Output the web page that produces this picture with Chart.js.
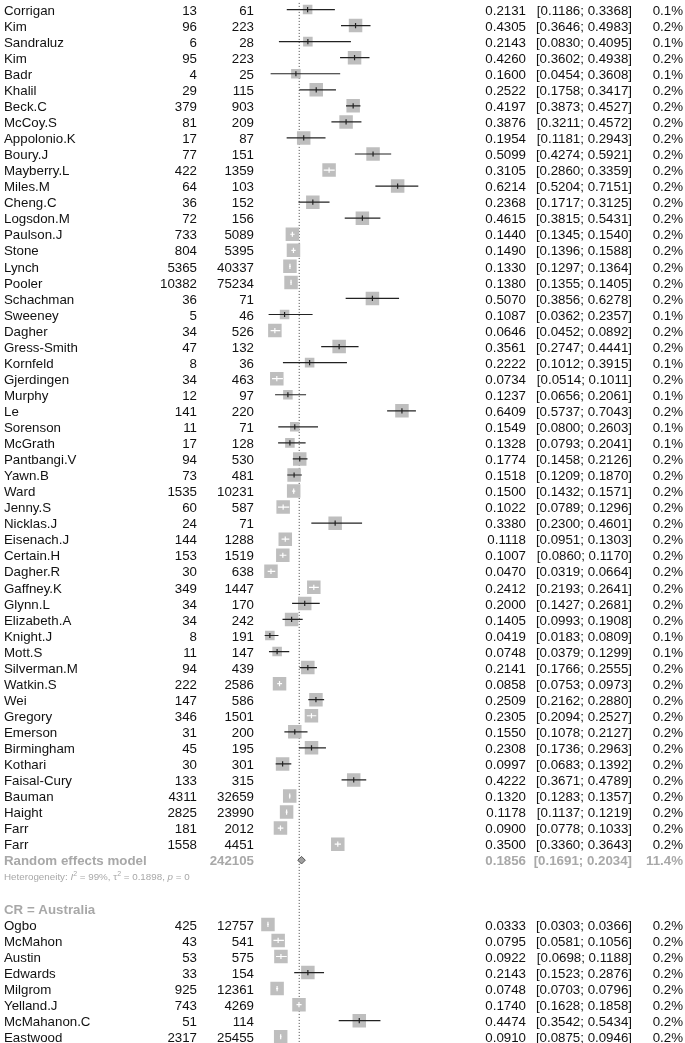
<!DOCTYPE html>
<html>
<head>
<meta charset="utf-8">
<script src="https://cdn.jsdelivr.net/npm/chart.js@4/dist/chart.umd.min.js"></script>
<style>
  html, body { margin: 0; padding: 0; background: #fff; }
  #wrap { position: relative; width: 685px; height: 1043px; }
</style>
</head>
<body>
<div id="wrap"><canvas id="forest"></canvas></div>
<script>
// study rows (first subgroup, then CR = Australia)
var studies = ['Corrigan','Kim','Sandraluz','Kim','Badr','Khalil','Beck.C','McCoy.S','Appolonio.K','Boury.J',
  'Mayberry.L','Miles.M','Cheng.C','Logsdon.M','Paulson.J','Stone','Lynch','Pooler','Schachman','Sweeney',
  'Dagher','Gress-Smith','Kornfeld','Gjerdingen','Murphy','Le','Sorenson','McGrath','Pantbangi.V','Yawn.B',
  'Ward','Jenny.S','Nicklas.J','Eisenach.J','Certain.H','Dagher.R','Gaffney.K','Glynn.L','Elizabeth.A','Knight.J',
  'Mott.S','Silverman.M','Watkin.S','Wei','Gregory','Emerson','Birmingham','Kothari','Faisal-Cury','Bauman',
  'Haight','Farr','Farr',
  'Ogbo','McMahon','Austin','Edwards','Milgrom','Yelland.J','McMahanon.C','Eastwood'];
var events = [13,96,6,95,4,29,379,81,17,77,
  422,64,36,72,733,804,5365,10382,36,5,
  34,47,8,34,12,141,11,17,94,73,
  1535,60,24,144,153,30,349,34,34,8,
  11,94,222,147,346,31,45,30,133,4311,
  2825,181,1558,
  425,43,53,33,925,743,51,2317];
var totals = [61,223,28,223,25,115,903,209,87,151,
  1359,103,152,156,5089,5395,40337,75234,71,46,
  526,132,36,463,97,220,71,128,530,481,
  10231,587,71,1288,1519,638,1447,170,242,191,
  147,439,2586,586,1501,200,195,301,315,32659,
  23990,2012,4451,
  12757,541,575,154,12361,4269,114,25455];
var props = [0.2131,0.4305,0.2143,0.4260,0.1600,0.2522,0.4197,0.3876,0.1954,0.5099,
  0.3105,0.6214,0.2368,0.4615,0.1440,0.1490,0.1330,0.1380,0.5070,0.1087,
  0.0646,0.3561,0.2222,0.0734,0.1237,0.6409,0.1549,0.1328,0.1774,0.1518,
  0.1500,0.1022,0.3380,0.1118,0.1007,0.0470,0.2412,0.2000,0.1405,0.0419,
  0.0748,0.2141,0.0858,0.2509,0.2305,0.1550,0.2308,0.0997,0.4222,0.1320,
  0.1178,0.0900,0.3500,
  0.0333,0.0795,0.0922,0.2143,0.0748,0.1740,0.4474,0.0910];
var lower = [0.1186,0.3646,0.0830,0.3602,0.0454,0.1758,0.3873,0.3211,0.1181,0.4274,
  0.2860,0.5204,0.1717,0.3815,0.1345,0.1396,0.1297,0.1355,0.3856,0.0362,
  0.0452,0.2747,0.1012,0.0514,0.0656,0.5737,0.0800,0.0793,0.1458,0.1209,
  0.1432,0.0789,0.2300,0.0951,0.0860,0.0319,0.2193,0.1427,0.0993,0.0183,
  0.0379,0.1766,0.0753,0.2162,0.2094,0.1078,0.1736,0.0683,0.3671,0.1283,
  0.1137,0.0778,0.3360,
  0.0303,0.0581,0.0698,0.1523,0.0703,0.1628,0.3542,0.0875];
var upper = [0.3368,0.4983,0.4095,0.4938,0.3608,0.3417,0.4527,0.4572,0.2943,0.5921,
  0.3359,0.7151,0.3125,0.5431,0.1540,0.1588,0.1364,0.1405,0.6278,0.2357,
  0.0892,0.4441,0.3915,0.1011,0.2061,0.7043,0.2603,0.2041,0.2126,0.1870,
  0.1571,0.1296,0.4601,0.1303,0.1170,0.0664,0.2641,0.2681,0.1908,0.0809,
  0.1299,0.2555,0.0973,0.2880,0.2527,0.2127,0.2963,0.1392,0.4789,0.1357,
  0.1219,0.1033,0.3643,
  0.0366,0.1056,0.1188,0.2876,0.0796,0.1858,0.5434,0.0946];
var weights = [0.1,0.2,0.1,0.2,0.1,0.2,0.2,0.2,0.2,0.2,
  0.2,0.2,0.2,0.2,0.2,0.2,0.2,0.2,0.2,0.1,
  0.2,0.2,0.1,0.2,0.1,0.2,0.1,0.1,0.2,0.2,
  0.2,0.2,0.2,0.2,0.2,0.2,0.2,0.2,0.2,0.1,
  0.1,0.2,0.2,0.2,0.2,0.2,0.2,0.2,0.2,0.2,
  0.2,0.2,0.2,
  0.2,0.2,0.2,0.2,0.2,0.2,0.2,0.2];
var firstGroupSize = 53;
var subgroupLabel = 'CR = Australia';

// pooled estimate of the first subgroup
var pooledLabel = 'Random effects model';
var pooledTotal = 242105;
var pooledEst = 0.1856;
var pooledLower = 0.1691;
var pooledUpper = 0.2034;
var pooledWeight = 11.4;
var hetI2 = '99%', hetTau2 = '0.1898', hetP = '0';
var overallEst = 0.175;   // dotted reference line

var FONT = '"Liberation Sans", Arial, Helvetica, sans-serif';
var BLACK = '#111', GREY = '#a8a8a8', LINE = '#222';
var SQ = 13.5;   // square side at 0.2% weight

function rowOf(i) { return i < firstGroupSize ? i : i + 4; }
var pooledRow = firstGroupSize, hetRow = firstGroupSize + 1, headerRow = firstGroupSize + 3;
function sideOf(i) { return SQ * Math.sqrt(weights[i] / 0.2); }
function insideSq(i, chart) {
  var xs = chart.scales.x;
  var c = xs.getPixelForValue(props[i]), h = sideOf(i) / 2;
  return xs.getPixelForValue(lower[i]) >= c - h && xs.getPixelForValue(upper[i]) <= c + h;
}

var squareData = props.map(function(p, i){ return {x: p, y: rowOf(i)}; });
var ciData = [];
props.forEach(function(p, i){
  ciData.push({x: lower[i], y: rowOf(i)});
  ciData.push({x: upper[i], y: rowOf(i)});
  ciData.push({x: upper[i], y: null});
});

var tablePlugin = {
  id: 'forestTable',
  afterDatasetsDraw: function(chart) {
    var ctx = chart.ctx, ys = chart.scales.y;
    function put(txt, x, row, align, color, bold) {
      ctx.font = (bold ? 'bold ' : '') + '13.3px ' + FONT;
      ctx.fillStyle = color;
      ctx.textAlign = align;
      ctx.fillText(txt, x, ys.getPixelForValue(row) + 5.2);
    }
    ctx.save();
    ctx.textBaseline = 'alphabetic';
    studies.forEach(function(s, i){
      var r = rowOf(i);
      put(s, 4, r, 'left', BLACK);
      put(String(events[i]), 197, r, 'right', BLACK);
      put(String(totals[i]), 254, r, 'right', BLACK);
      put(props[i].toFixed(4), 526, r, 'right', BLACK);
      put('[' + lower[i].toFixed(4) + '; ' + upper[i].toFixed(4) + ']', 632, r, 'right', BLACK);
      put(weights[i].toFixed(1) + '%', 683, r, 'right', BLACK);
    });
    put(pooledLabel, 4, pooledRow, 'left', GREY, true);
    put(String(pooledTotal), 254, pooledRow, 'right', GREY, true);
    put(pooledEst.toFixed(4), 526, pooledRow, 'right', GREY, true);
    put('[' + pooledLower.toFixed(4) + '; ' + pooledUpper.toFixed(4) + ']', 632, pooledRow, 'right', GREY, true);
    put(pooledWeight.toFixed(1) + '%', 683, pooledRow, 'right', GREY, true);
    put(subgroupLabel, 4, headerRow, 'left', GREY, true);

    // heterogeneity line with italic / superscripts
    var x = 4, y = ys.getPixelForValue(hetRow) + 4;
    ctx.textAlign = 'left';
    ctx.fillStyle = GREY;
    function seg(t, font, dy) {
      ctx.font = font;
      ctx.fillText(t, x, y + (dy || 0));
      x += ctx.measureText(t).width;
    }
    var n = '9.8px ' + FONT, it = 'italic 9.8px ' + FONT, sup = '7px ' + FONT;
    seg('Heterogeneity: ', n);
    seg('I', it);
    seg('2', sup, -4.3);
    seg(' = ' + hetI2 + ', ', n);
    seg('\u03c4', n);
    seg('2', sup, -4.3);
    seg(' = ' + hetTau2 + ', ', n);
    seg('p', it);
    seg(' = ' + hetP, n);
    ctx.restore();
  }
};

new Chart(document.getElementById('forest'), {
  type: 'scatter',
  data: {
    datasets: [
      {
        label: 'overall',
        data: [{x: overallEst, y: -0.6}, {x: overallEst, y: 64.5}],
        showLine: true, borderColor: '#444', borderWidth: 1, borderDash: [1, 2],
        pointRadius: 0, order: 6
      },
      {
        label: 'squares',
        data: squareData,
        pointStyle: 'rect',
        pointRadius: function(c){ return sideOf(c.dataIndex) / Math.SQRT2; },
        pointHoverRadius: function(c){ return sideOf(c.dataIndex) / Math.SQRT2; },
        backgroundColor: '#bebebe', pointBackgroundColor: '#bebebe',
        pointBorderWidth: 0, borderWidth: 0, order: 4
      },
      {
        label: 'ci',
        data: ciData,
        showLine: true, spanGaps: false, pointRadius: 0, borderWidth: 1.2,
        borderColor: LINE,
        segment: {
          borderColor: function(c){ return insideSq(Math.floor(c.p0DataIndex / 3), c.chart) ? '#fff' : LINE; }
        },
        order: 3
      },
      {
        label: 'est',
        data: squareData,
        pointStyle: 'line', pointRotation: 90, pointRadius: 2.6, pointBorderWidth: 1.2,
        pointBorderColor: function(c){ return insideSq(c.dataIndex, c.chart) ? '#fff' : LINE; },
        order: 2
      },
      {
        label: 'pooled',
        data: [{x: pooledEst, y: pooledRow}],
        pointStyle: 'rectRot',
        pointRadius: function(c){
          var xs = c.chart.scales.x;
          return (xs.getPixelForValue(pooledUpper) - xs.getPixelForValue(pooledLower)) / 2;
        },
        pointBackgroundColor: '#a0a0a0', pointBorderColor: '#555', pointBorderWidth: 1,
        order: 1
      }
    ]
  },
  options: {
    responsive: true,
    maintainAspectRatio: false,
    animation: false,
    layout: { autoPadding: false, padding: { left: 254, right: 259, top: 1.5, bottom: 0 } },
    scales: {
      x: { type: 'linear', min: -0.03, max: 0.75, display: false },
      y: { type: 'linear', min: -0.5, max: 64.39, reverse: true, display: false }
    },
    plugins: { legend: { display: false }, tooltip: { enabled: false } }
  },
  plugins: [tablePlugin]
});
</script>
</body>
</html>
